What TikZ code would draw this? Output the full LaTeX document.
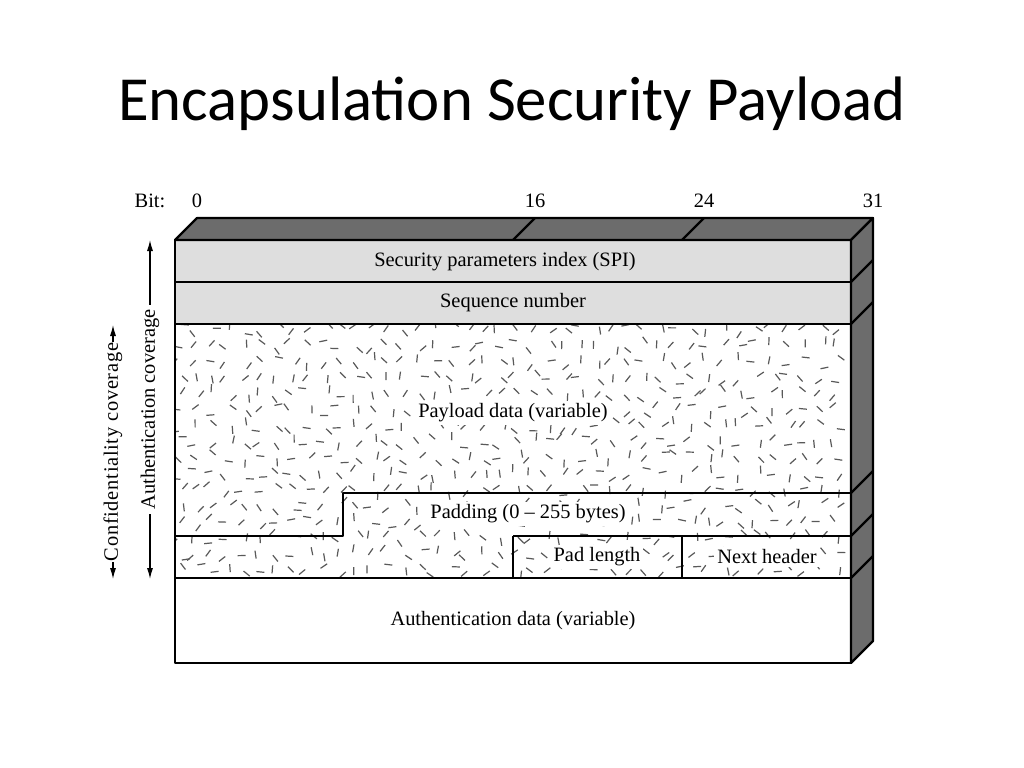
\documentclass[tikz,border=0pt]{standalone}
\usepackage{fontspec}
\setmainfont{Liberation Serif}
\newfontfamily\titlefont{Carlito}
\newfontfamily\widefont[LetterSpace=3.5]{Liberation Serif}
\usetikzlibrary{arrows.meta}
\definecolor{sidegray}{RGB}{108,108,108}
\definecolor{rowgray}{RGB}{222,222,222}

\begin{document}
\begin{tikzpicture}[x=1bp,y=-1bp,
  frame/.style={draw, line width=2.2bp, line join=round},
  face/.style={frame, fill=sidegray},
  fleck/.style={line width=1.2bp, black!65},
  lbl/.style={font=\fontsize{20.5}{23}\selectfont, inner sep=2bp},
  hlbl/.style={lbl, fill=white, inner sep=3bp},
  cover/.style={{Latex[length=11bp,width=6bp]}-{Latex[length=11bp,width=6bp]}, line width=1.1bp}]
  \useasboundingbox[fill=white] (0,0) rectangle (1024,768);

  \node[font=\titlefont\fontsize{63}{70}\selectfont, anchor=base] (title) at (512,120) {Encapsulation Security Payload};

  % bit positions
  \node[lbl] (bit) at (150,201) {Bit:};
  \node[lbl] (b0) at (197,201) {0};
  \node[lbl] (b16) at (535,201) {16};
  \node[lbl] (b24) at (704,201) {24};
  \node[lbl] (b31) at (873,201) {31};

  % header words
  \fill[rowgray] (175,240) rectangle (851,324);

  % random flecks for the encrypted part
  \pgfmathsetseed{4711}
  \begin{scope}
    \clip (175,324) rectangle (851,578);
    \foreach \gx in {180,196,...,850}
      \foreach \gy in {330,346,...,578} {
        \pgfmathsetmacro\fx{\gx+6*rand}
        \pgfmathsetmacro\fy{\gy+6*rand}
        \pgfmathsetmacro\fa{45*random(0,3)+12*rand}
        \draw[fleck] (\fx,\fy) ++(\fa:-4) -- ++(\fa:8);
      }
  \end{scope}

  % 3d faces
  \draw[face] (175,240) -- (197,218) -- (873,218) -- (851,240) -- cycle;
  \draw[face] (851,240) -- (873,218) -- (873,641) -- (851,663) -- cycle;
  \draw[frame] (513,240) -- (535,218);
  \draw[frame] (682,240) -- (704,218);
  \foreach \ry in {282,324,493,536,578}
    \draw[frame] (851,\ry) -- (873,\ry-22);

  % front face
  \draw[frame] (175,240) rectangle (851,663);
  \draw[frame] (175,282) -- (851,282);
  \draw[frame] (175,324) -- (851,324);
  \draw[frame] (175,578) -- (851,578);
  \draw[frame] (175,536) -- (343,536) -- (343,493) -- (851,493);
  \draw[frame] (513,536) -- (851,536);
  \draw[frame] (513,536) -- (513,578);
  \draw[frame] (682,536) -- (682,578);

  \node[lbl] (spi) at (505,262) {Security parameters index (SPI)};
  \node[lbl] (seq) at (513,303) {Sequence number};
  \node[hlbl] (payload) at (513,413) {Payload data (variable)};
  \node[hlbl] (padding) at (528,514) {Padding (0 -- 255 bytes)};
  \node[hlbl] (padlen) at (597,557) {Pad length};
  \node[hlbl] (nexthdr) at (767,557) {Next header};
  \node[lbl] (authdata) at (513,621) {Authentication data (variable)};

  % coverage arrows
  \coordinate (authtop) at (150,240);
  \coordinate (authbot) at (150,579);
  \coordinate (conftop) at (113,325);
  \coordinate (confbot) at (113,579);
  \draw[cover] (authbot) -- node[lbl, fill=white, sloped, inner sep=4bp] (authcov) {Authentication coverage} (authtop);
  \draw[cover] (confbot) -- node[lbl, font=\widefont\fontsize{20.5}{23}\selectfont, fill=white, sloped, inner sep=1bp] (confcov) {Confidentiality coverage} (conftop);
\end{tikzpicture}
\end{document}
